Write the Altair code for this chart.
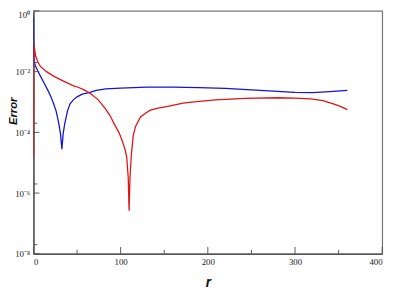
import altair as alt
import pandas as pd

# Blue series (r, error)
blue_r = [0, 0.3, 2, 5, 8, 12, 16, 20, 23, 26, 29, 31, 32.6, 34, 36, 39, 42, 46, 50, 56,
          64, 72, 83, 100, 130, 160, 190, 220, 250, 280, 300, 320, 340, 360]
blue_err = [6.3e-1, 2.5e-2, 1.6e-2, 1.05e-2, 7.1e-3, 4.3e-3, 2.6e-3, 1.5e-3, 8.9e-4, 5.0e-4,
            2.0e-4, 8.9e-5, 2.8e-5, 8.9e-5, 2.0e-4, 5.0e-4, 8.7e-4, 1.2e-3, 1.48e-3, 1.82e-3,
            2.04e-3, 2.4e-3, 2.7e-3, 2.88e-3, 3.1e-3, 3.1e-3, 2.95e-3, 2.82e-3, 2.5e-3, 2.24e-3,
            2.09e-3, 2.04e-3, 2.19e-3, 2.4e-3]

# Red series (r, error)
red_r = [0, 0.4, 2.6, 5, 8, 15, 23, 35, 46, 52, 58, 65, 74, 82, 88, 93, 98, 102, 105, 107,
         108.7, 109.7, 110.7, 112.4, 114.5, 117.2, 122.8, 128, 134, 143, 152.8, 171.5, 187, 209,
         243, 280, 300, 318, 332, 344, 352, 360]
red_err = [1.5e-5, 8.1e-2, 3.2e-2, 2.1e-2, 1.48e-2, 1.0e-2, 7.1e-3, 4.8e-3, 3.4e-3, 3.0e-3,
           2.5e-3, 1.95e-3, 1.2e-3, 6.3e-4, 3.5e-4, 1.8e-4, 1.0e-4, 5.1e-5, 2.8e-5, 1.5e-5,
           3.2e-6, 2.6e-7, 3.2e-6, 2.0e-5, 7.9e-5, 1.6e-4, 3.2e-4, 4.2e-4, 5.4e-4, 6.3e-4,
           7.1e-4, 9.1e-4, 1.02e-3, 1.17e-3, 1.32e-3, 1.38e-3, 1.35e-3, 1.26e-3, 1.1e-3, 8.7e-4,
           7.2e-4, 5.6e-4]

x_major = [0, 100, 200, 300, 400]
x_minor = [50, 150, 250, 350]
y_major = [1e-8, 1e-6, 1e-4, 1e-2, 1]
y_minor = [2e-8, 2e-6, 2e-4, 2e-2]

df = pd.concat([
    pd.DataFrame({"r": blue_r, "err": blue_err, "s": "blue", "o": range(len(blue_r))}),
    pd.DataFrame({"r": red_r, "err": red_err, "s": "red", "o": range(len(red_r))}),
])

W, H = 356, 248
xs = alt.Scale(domain=[0, 400], nice=False, zero=False)
ys = alt.Scale(type="log", domain=[1e-8, 1], nice=False)

xa = alt.Axis(
    values=x_major, ticks=False, domainColor="#555", domainWidth=1.5,
    labelFont="Liberation Serif", labelFontSize=9, labelColor="#222", labelPadding=4,
    grid=False, title="r", titleFont="Liberation Sans", titleFontStyle="italic",
    titleFontWeight="bold", titleFontSize=14, titlePadding=9, titleColor="#111")
ya = alt.Axis(
    values=y_major, ticks=False, domainColor="#555", domainWidth=1.5,
    labelFont="Liberation Serif", labelFontSize=9, labelColor="#222", labelPadding=4,
    labelExpr="['10⁻⁸','10⁻⁶','10⁻⁴','10⁻²','10⁰'][round(log(datum.value)/LN10)/2+4]",
    labelBaseline={"condition": {"test": "datum.value >= 0.5", "value": "top"}, "value": "middle"},
    grid=False, title="Error", titleFont="Liberation Sans", titleFontStyle="italic",
    titleFontWeight="bold", titleFontSize=11.5, titleColor="#111",
    titleX=-20, titleY=102, titleAlign="center", titleBaseline="middle", titleAngle=270)

lines = alt.Chart(df).mark_line(strokeWidth=1.3, clip=True).encode(
    x=alt.X("r:Q", scale=xs, axis=xa),
    y=alt.Y("err:Q", scale=ys, axis=ya),
    color=alt.Color("s:N", scale=alt.Scale(domain=["blue", "red"], range=["#1414d2", "#e01414"]),
                    legend=None),
    order="o:Q",
)

tick_color = "#555"
xmaj = alt.Chart(pd.DataFrame({"t": x_major})).mark_rule(color=tick_color, strokeWidth=1).encode(
    x=alt.X("t:Q", scale=xs, axis=xa), y=alt.value(H), y2=alt.value(H - 7))
xmin = alt.Chart(pd.DataFrame({"t": x_minor})).mark_rule(color=tick_color, strokeWidth=1).encode(
    x=alt.X("t:Q", scale=xs, axis=xa), y=alt.value(H), y2=alt.value(H - 4))
ymaj = alt.Chart(pd.DataFrame({"t": y_major})).mark_rule(color=tick_color, strokeWidth=1).encode(
    y=alt.Y("t:Q", scale=ys, axis=ya), x=alt.value(0), x2=alt.value(6))
ymin = alt.Chart(pd.DataFrame({"t": y_minor})).mark_rule(color=tick_color, strokeWidth=1).encode(
    y=alt.Y("t:Q", scale=ys, axis=ya), x=alt.value(0), x2=alt.value(4))

chart = alt.layer(lines, xmaj, xmin, ymaj, ymin).properties(
    width=W, height=H,
    autosize=alt.AutoSizeParams(type="none"),
    padding={"left": 26, "top": 0, "right": 9, "bottom": 35},
    background="white",
).configure_view(stroke="#777", strokeWidth=1.2)

chart.save("out.html", embed_options={"renderer": "svg", "actions": False})
